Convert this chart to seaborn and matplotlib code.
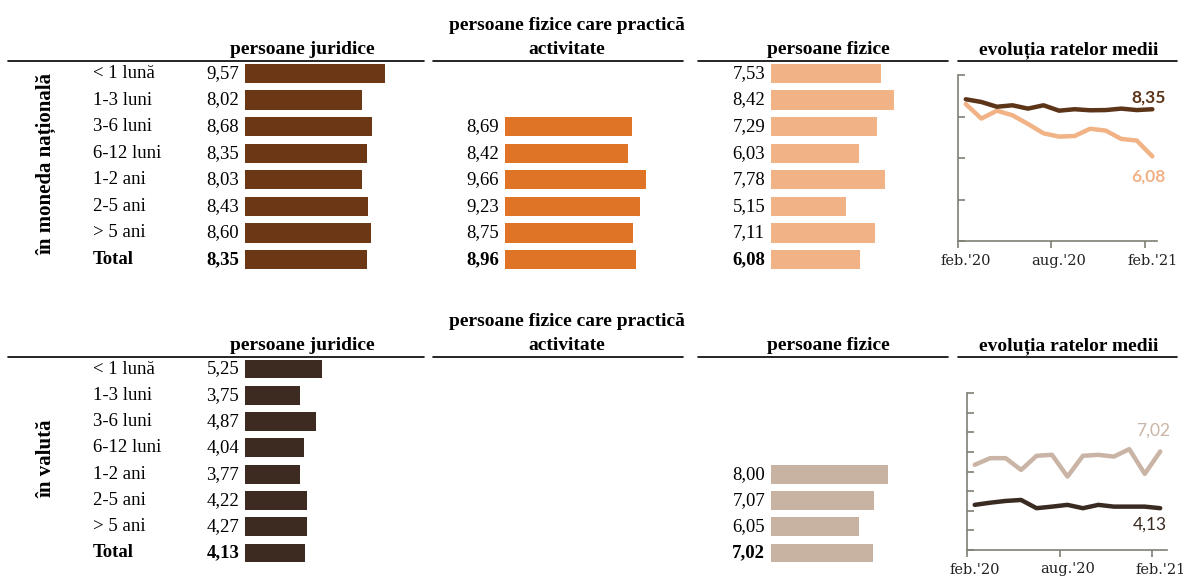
import numpy as np
import pandas as pd
import matplotlib
matplotlib.use("Agg")
import matplotlib.pyplot as plt
import seaborn as sns
from matplotlib.lines import Line2D
from matplotlib.transforms import blended_transform_factory

# categories (termene)
categories = ["< 1 lună", "1-3 luni", "3-6 luni", "6-12 luni", "1-2 ani", "2-5 ani", "> 5 ani", "Total"]

# rate medii - in moneda nationala
mdl_juridice = [9.57, 8.02, 8.68, 8.35, 8.03, 8.43, 8.60, 8.35]
mdl_fizice_activ = [np.nan, np.nan, 8.69, 8.42, 9.66, 9.23, 8.75, 8.96]
mdl_fizice = [7.53, 8.42, 7.29, 6.03, 7.78, 5.15, 7.11, 6.08]

# rate medii - in valuta
val_juridice = [5.25, 3.75, 4.87, 4.04, 3.77, 4.22, 4.27, 4.13]
val_fizice_activ = [np.nan] * 8
val_fizice = [np.nan, np.nan, np.nan, np.nan, 8.00, 7.07, 6.05, 7.02]

# evolutia ratelor medii, feb.'20 - feb.'21
months = ["feb.'20", "mar.'20", "apr.'20", "mai.'20", "iun.'20", "iul.'20", "aug.'20",
          "sep.'20", "oct.'20", "nov.'20", "dec.'20", "ian.'21", "feb.'21"]
mdl_trend_juridice = [8.83, 8.70, 8.47, 8.54, 8.38, 8.54, 8.28, 8.35, 8.30, 8.31, 8.38, 8.31, 8.35]
mdl_trend_fizice = [8.60, 7.90, 8.28, 8.06, 7.64, 7.19, 7.03, 7.06, 7.41, 7.32, 6.92, 6.84, 6.08]
val_trend_juridice = [4.30, 4.41, 4.50, 4.55, 4.13, 4.21, 4.30, 4.13, 4.30, 4.21, 4.21, 4.21, 4.13]
val_trend_fizice = [6.34, 6.68, 6.68, 6.08, 6.80, 6.85, 5.74, 6.80, 6.85, 6.76, 7.14, 5.88, 7.02]

sns.set_style("white")
plt.rcParams["font.family"] = ["Liberation Serif", "DejaVu Serif"]
plt.rcParams["text.color"] = "black"
plt.rcParams["xtick.color"] = "black"
plt.rcParams["ytick.color"] = "black"

W, H = 1183, 578
fig = plt.figure(figsize=(W / 100, H / 100), dpi=100)


def px_axes(x0, y0, x1, y1):
    return fig.add_axes([x0 / W, 1 - y1 / H, (x1 - x0) / W, (y1 - y0) / H])


def fmt(v):
    return f"{v:.2f}".replace(".", ",")


def header_lines(y):
    for x0, x1 in [(8, 424), (433, 683), (698, 948), (958, 1177)]:
        fig.add_artist(Line2D([x0 / W, x1 / W], [1 - y / H, 1 - y / H],
                              transform=fig.transFigure, color="black", lw=1.2))


def bar_panel(x0, ytop, ybot, values, color):
    ax = px_axes(x0, ytop, x0 + 160.6, ybot)
    df = pd.DataFrame({"termen": categories, "rata": values}).dropna()
    if len(df):
        sns.barplot(data=df, x="rata", y="termen", order=categories, orient="h",
                    color=color, saturation=1, width=0.72, linewidth=0, ax=ax)
    ax.set_xlim(0, 11)
    ax.set_ylim(7.5, -0.5)
    ax.axis("off")
    for i, v in enumerate(values):
        if not np.isnan(v):
            ax.text(-0.4, i, fmt(v), ha="right", va="center", fontsize=13.5,
                    fontweight="bold" if categories[i] == "Total" else "normal")
    return ax


def section(ytop, ybot, juridice, activ, fizice, colors, side_label, label_y):
    ax = bar_panel(245, ytop, ybot, juridice, colors[0])
    bar_panel(505, ytop, ybot, activ, colors[1])
    bar_panel(771, ytop, ybot, fizice, colors[2])
    tr = blended_transform_factory(fig.transFigure, ax.transData)
    for i, c in enumerate(categories):
        ax.text(93 / W, i, c, transform=tr, ha="left", va="center", fontsize=13.5,
                fontweight="bold" if c == "Total" else "normal")
    fig.text(46 / W, 1 - label_y / H, side_label, rotation=90, ha="center", va="center",
             fontsize=15, fontweight="bold")


def trend_panel(x0, ytop, x1, ybot, xlim, ylim, yticks, s_dark, s_light, c_dark, c_light,
                lab_dark, lab_light, bold):
    ax = px_axes(x0, ytop, x1, ybot)
    x = np.arange(len(months))
    sns.lineplot(x=x, y=s_light, color=c_light, linewidth=3.2, ax=ax)
    sns.lineplot(x=x, y=s_dark, color=c_dark, linewidth=3.2, ax=ax)
    ax.set_xlim(*xlim)
    ax.set_ylim(*ylim)
    ax.set_yticks(yticks)
    ax.set_yticklabels([])
    ax.set_xticks([-0.5, 5.5, 11.5])
    ax.set_xticklabels([])
    ax.set_xticks([0, 6, 12], minor=True)
    ax.set_xticklabels([months[0], months[6], months[12]], minor=True,
                       fontsize=10.5, family="DejaVu Serif")
    ax.tick_params(axis="x", which="major", bottom=True, direction="out", length=5, width=1.2,
                   color="#7f7f74")
    ax.tick_params(axis="x", which="minor", bottom=True, length=0, pad=9, labelcolor="#222222")
    ax.tick_params(axis="y", left=True, direction="in", length=5, width=1.2, color="#7f7f74")
    for s in ["top", "right"]:
        ax.spines[s].set_visible(False)
    for s in ["left", "bottom"]:
        ax.spines[s].set_color("#7f7f74")
        ax.spines[s].set_linewidth(1.2)
    w = "bold" if bold else "normal"
    ax.annotate(fmt(s_dark[-1]), (12, s_dark[-1]), xytext=lab_dark, textcoords="offset pixels",
                ha="center", va="center", color=c_dark, fontsize=12.5, fontweight=w, family="Lato")
    ax.annotate(fmt(s_light[-1]), (12, s_light[-1]), xytext=lab_light, textcoords="offset pixels",
                ha="center", va="center", color=c_light, fontsize=12.5, fontweight=w, family="Lato")


def headers(y_line):
    d = y_line - 61
    kw = dict(ha="center", va="center", fontsize=14, fontweight="bold")
    fig.text(302 / W, 1 - (50 + d) / H, "persoane juridice", **kw)
    fig.text(567 / W, 1 - (25 + d) / H, "persoane fizice care practică", **kw)
    fig.text(567 / W, 1 - (49 + d) / H, "activitate", **kw)
    fig.text(828 / W, 1 - (49 + d) / H, "persoane fizice", **kw)
    fig.text(1069 / W, 1 - (50 + d) / H, "evoluția ratelor medii", **kw)
    header_lines(y_line)


# in moneda nationala
headers(61)
section(60.2, 272.8, mdl_juridice, mdl_fizice_activ, mdl_fizice,
        ["#6b3714", "#e07426", "#f1b386"], "în moneda națională", 164)
trend_panel(958, 75, 1157, 241, (-0.45, 12.3), (2, 10), [2, 4, 6, 8, 10],
            mdl_trend_juridice, mdl_trend_fizice, "#5c3418", "#f1b386",
            (-4, 12), (-4, -20), True)

# in valuta
headers(357)
section(355.9, 566.1, val_juridice, val_fizice_activ, val_fizice,
        ["#3d2b21", "#e07426", "#c8b2a2"], "în valută", 459)
trend_panel(967, 393, 1167, 550, (-0.38, 12.44), (2, 10), list(range(2, 11)),
            val_trend_juridice, val_trend_fizice, "#3a2b22", "#c9b4a5",
            (-10, -16), (-7, 21), False)

fig.savefig("out.png", dpi=100)
